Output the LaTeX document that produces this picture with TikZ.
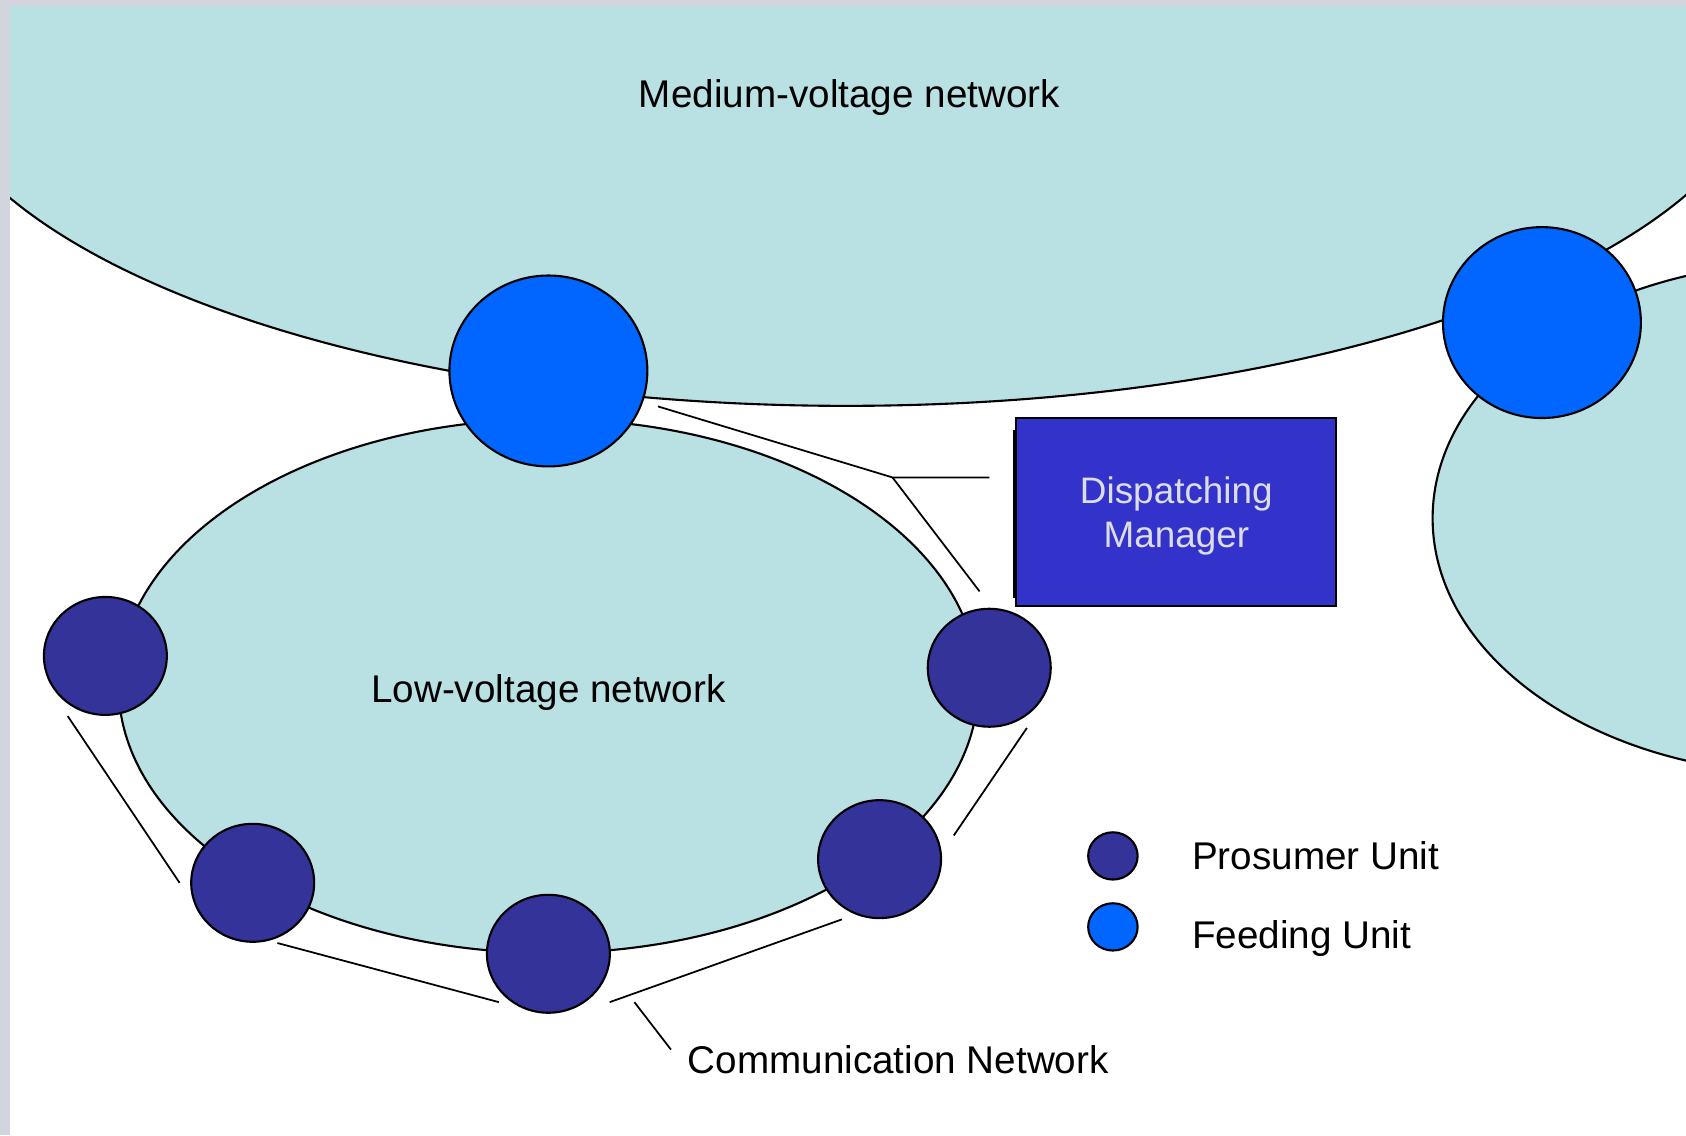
\documentclass[tikz,border=0pt]{standalone}
\usepackage{fontspec}
\setmainfont{Liberation Sans}
\usetikzlibrary{shapes.geometric}

\definecolor{netfill}{HTML}{B9E0E3}
\definecolor{feedblue}{HTML}{0066FF}
\definecolor{prosumer}{HTML}{333399}
\definecolor{dispatch}{HTML}{3333CC}
\definecolor{framegray}{HTML}{D2D5DD}
\definecolor{labelgray}{HTML}{DCDCE4}

\begin{document}
\begin{tikzpicture}[x=0.010753cm,y=-0.010753cm,font=\fontsize{11}{13}\selectfont]
  \tikzset{net/.style={fill=netfill,draw=black,line width=0.6pt},
    unit/.style={ellipse,draw=black,line width=0.6pt,inner sep=0pt},
    feeding/.style={unit,fill=feedblue,minimum width=1.98cm,minimum height=1.91cm},
    pros/.style={unit,fill=prosumer,minimum width=1.23cm,minimum height=1.18cm},
    small/.style={minimum width=0.495cm,minimum height=0.473cm},
    txt/.style={inner sep=0pt},
    comm/.style={line width=0.5pt}}
  \useasboundingbox (0,0) rectangle (1568,1056);
  \clip (0,0) rectangle (1568,1056);
  % medium- and low-voltage areas
  \draw[net] (787,40) ellipse [x radius=9.25cm, y radius=3.63cm];
  \draw[net] (1680,482) ellipse [x radius=3.74cm, y radius=2.56cm];
  \draw[net] (510,638) ellipse [x radius=4.30cm, y radius=2.67cm];
  \fill[framegray] (0,0) rectangle (9,1056);
  \fill[framegray] (0,0) rectangle (1568,6);
  % feeding and prosumer units
  \node[feeding] (f1) at (510,345) {};
  \node[feeding] (f2) at (1434,300) {};
  \node[pros] (p1) at (98,610) {};
  \node[pros] (p2) at (235,821) {};
  \node[pros] (p3) at (510,887) {};
  \node[pros] (p4) at (818,799) {};
  \node[pros] (p5) at (920,621) {};
  \draw[line width=0.5pt] (943,400) -- (943,556);
  \node[draw=black,line width=0.6pt,fill=dispatch,minimum width=3.2cm,minimum height=1.88cm,
    text=labelgray,align=center,text depth=0pt,font=\fontsize{10.5}{12.5}\selectfont] (dm) at (1094,476) {Dispatching\\Manager};
  % communication network
  \coordinate (hub) at (830,444);
  \draw[comm] (612,378) -- (hub) -- (920,444);
  \draw[comm] (hub) -- (911,550);
  \draw[comm] (955,677) -- (887,777);
  \draw[comm] (783,855) -- (567,932);
  \draw[comm] (464,932) -- (258,877);
  \draw[comm] (167,821) -- (63,666);
  \coordinate (tick) at (590,932);
  % labels and legend
  \node[txt,anchor=base] (mv) at (790,100) {Medium-voltage network};
  \node[txt,anchor=base] (lv) at (510,653) {Low-voltage network};
  \node[txt,anchor=base west] (cn) at (639,998) {Communication Network};
  \draw[comm] (tick) -- ([shift={(-15,-9)}]cn.west);
  \node[pros,small] (lp) at (1035,796) {};
  \node[feeding,small] (lf) at (1035,862) {};
  \node[txt,anchor=base west] (lpt) at (1108,809) {Prosumer Unit};
  \node[txt,anchor=base west] (lft) at (1108,882) {Feeding Unit};
\end{tikzpicture}
\end{document}
